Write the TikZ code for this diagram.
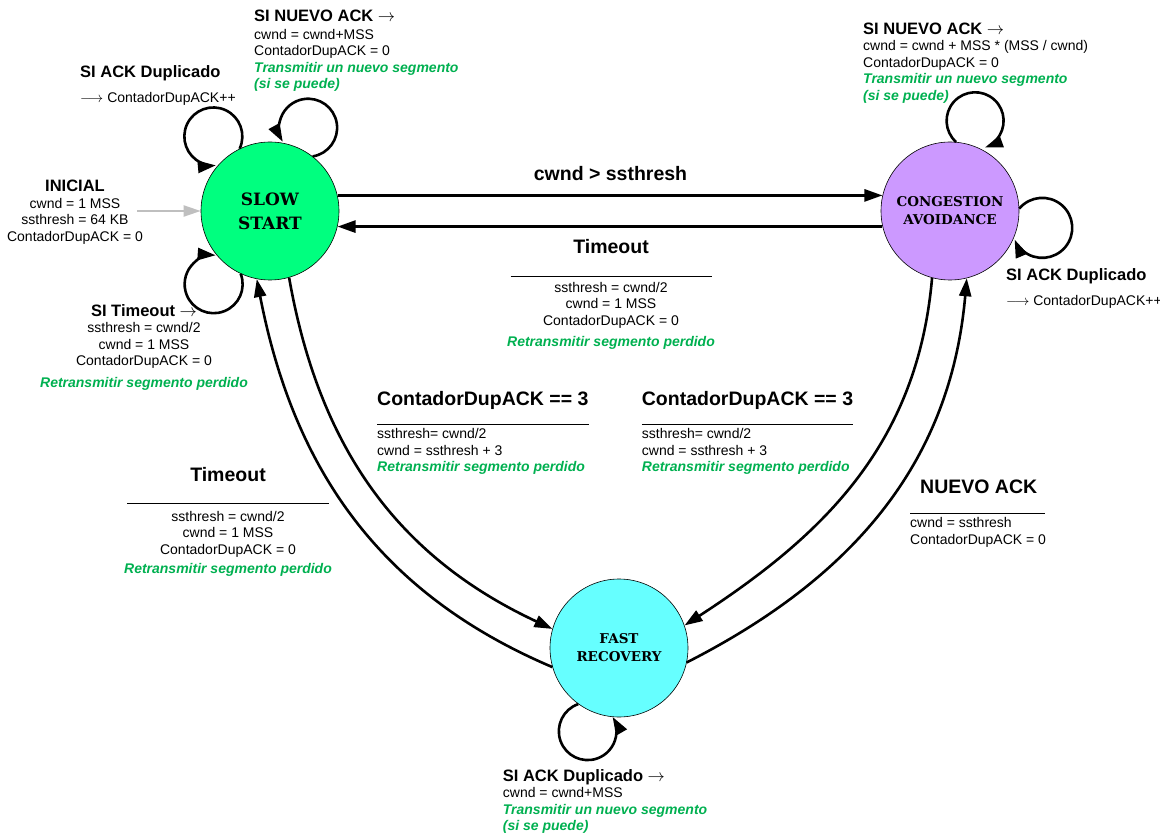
\documentclass[tikz,border=0pt]{standalone}
\usepackage{fontspec}
\setsansfont{Liberation Sans}
\newfontfamily\estadofont{DejaVu Serif}
\usetikzlibrary{arrows.meta}

\definecolor{verdeok}{RGB}{0,176,80}
\definecolor{ssfill}{RGB}{0,255,127}
\definecolor{cafill}{RGB}{204,153,255}
\definecolor{frfill}{RGB}{102,255,255}

\newcommand{\cab}[1]{{\bfseries\fontsize{16.5}{19}\selectfont #1}}
\newcommand{\grande}[1]{{\bfseries\fontsize{19.5}{22}\selectfont #1}}
\newcommand{\verde}[1]{{\color{verdeok}\bfseries\itshape #1}}
\newcommand{\raya}[1]{\rule{#1}{0.9pt}}

\tikzset{
  state/.style={circle, draw, line width=0.6pt, minimum size=138pt, inner sep=0pt, align=center},
  trans/.style={line width=2.6pt, -{Triangle[length=18pt,width=12pt]}},
  lbl/.style={inner sep=0pt, font=\sffamily\fontsize{14}{16.5}\selectfont}
}

\begin{document}
\begin{tikzpicture}[x=1pt, y=1pt]
\useasboundingbox (0,0) rectangle (1160,-834);

% estados
\node[state, fill=ssfill, font=\estadofont\fontsize{17}{24}\selectfont\bfseries] (ss) at (270,-211) {SLOW\\START};
\node[state, fill=cafill, font=\estadofont\fontsize{13.5}{18}\selectfont\bfseries] (ca) at (950,-211) {CONGESTION\\AVOIDANCE};
\node[state, fill=frfill, font=\estadofont\fontsize{13.5}{18}\selectfont\bfseries] (fr) at (619,-648) {FAST\\RECOVERY};

% transiciones
\draw[trans] (ss.13) -- (ca.167);
\draw[trans] (ca.193) -- (ss.-13);
\draw[trans] (ss.-74) to[out=-80, in=155] (fr.164);
\draw[trans] (fr.196) to[out=157, in=-79] (ss.259);
\draw[trans] (ca.255) to[out=-95, in=33] (fr.19);
\draw[trans] (fr.-12) to[out=27, in=-95] (ca.284);

% lazos
\draw[trans] (ss.116) arc[start angle=-25, end angle=275, radius=29];
\draw[trans] (ss.52) arc[start angle=-81, end angle=209, radius=29];
\draw[trans] (ss.245) arc[start angle=21, end angle=-274, radius=29];
\draw[trans] (ca.85) arc[start angle=228, end angle=-70, radius=28.5];
\draw[trans] (ca.2) arc[start angle=140, end angle=-157, radius=30];
\draw[trans] (fr.234) arc[start angle=109, end angle=390, radius=28.8];

% inicio
\coordinate (ini) at (137,-211);
\draw[line width=2pt, gray!50, -{Triangle[length=17pt,width=11pt]}] (ini) -- (ss.west);

% etiquetas
\node[lbl, anchor=north west, align=left] (dupss) at (80,-65)
  {\cab{SI ACK Duplicado}\\[8.5pt] $\longrightarrow$ ContadorDupACK++};
\node[lbl, anchor=north west, align=left] (nuevoss) at (254,-10)
  {\cab{SI NUEVO ACK $\rightarrow$}\\[1pt] cwnd = cwnd+MSS\\ ContadorDupACK = 0\\
   \verde{Transmitir un nuevo segmento}\\ \verde{(si se puede)}};
\node[lbl, anchor=north, align=center] (inicial) at (75,-180)
  {\cab{INICIAL}\\ cwnd = 1 MSS\\ ssthresh = 64 KB\\ ContadorDupACK = 0};
\node[lbl, anchor=north, align=center] (toss) at (144,-304)
  {\cab{SI Timeout $\rightarrow$}\\ ssthresh = cwnd/2\\ cwnd = 1 MSS\\ ContadorDupACK = 0\\[5pt]
   \verde{Retransmitir segmento perdido}};
\node[lbl, anchor=north west, align=left] (nuevoca) at (863,-22.7)
  {\cab{SI NUEVO ACK $\rightarrow$}\\ cwnd = cwnd + MSS * (MSS / cwnd)\\ ContadorDupACK = 0\\
   \verde{Transmitir un nuevo segmento}\\ \verde{(si se puede)}};
\node[lbl, anchor=north west, align=left] (dupca) at (1006,-268)
  {\cab{SI ACK Duplicado}\\[8.5pt] $\longrightarrow$ ContadorDupACK++};
\node[lbl, anchor=north] (umbral) at (610.5,-165.7) {\grande{cwnd > ssthresh}};
\node[lbl, anchor=north, align=center] (toca) at (611,-239)
  {\grande{Timeout}\\[7pt] \raya{201pt}\\[-1pt] ssthresh = cwnd/2\\ cwnd = 1 MSS\\ ContadorDupACK = 0\\[5pt]
   \verde{Retransmitir segmento perdido}};
\node[lbl, anchor=north west, align=left] (triss) at (377,-391)
  {\grande{ContadorDupACK == 3}\\[3.5pt] \raya{212pt}\\[-3pt] ssthresh= cwnd/2\\ cwnd = ssthresh + 3\\
   \verde{Retransmitir segmento perdido}};
\node[lbl, anchor=north west, align=left] (trica) at (641.7,-391)
  {\grande{ContadorDupACK == 3}\\[3.5pt] \raya{211pt}\\[-3pt] ssthresh= cwnd/2\\ cwnd = ssthresh + 3\\
   \verde{Retransmitir segmento perdido}};
\node[lbl, anchor=north, align=center] (tofr) at (228,-466.7)
  {\grande{Timeout}\\[6pt] \raya{202pt}\\[1pt] ssthresh = cwnd/2\\ cwnd = 1 MSS\\ ContadorDupACK = 0\\[3pt]
   \verde{Retransmitir segmento perdido}};
\node[lbl, anchor=north west, align=left] (nuevofr) at (910,-480)
  {\hspace*{10pt}\grande{NUEVO ACK}\\[3.5pt] \raya{135pt}\\[-2.5pt] cwnd = ssthresh\\ ContadorDupACK = 0};
\node[lbl, anchor=north west, align=left] (dupfr) at (502.7,-769)
  {\cab{SI ACK Duplicado $\rightarrow$}\\ cwnd = cwnd+MSS\\ \verde{Transmitir un nuevo segmento}\\
   \verde{(si se puede)}};
\end{tikzpicture}
\end{document}
